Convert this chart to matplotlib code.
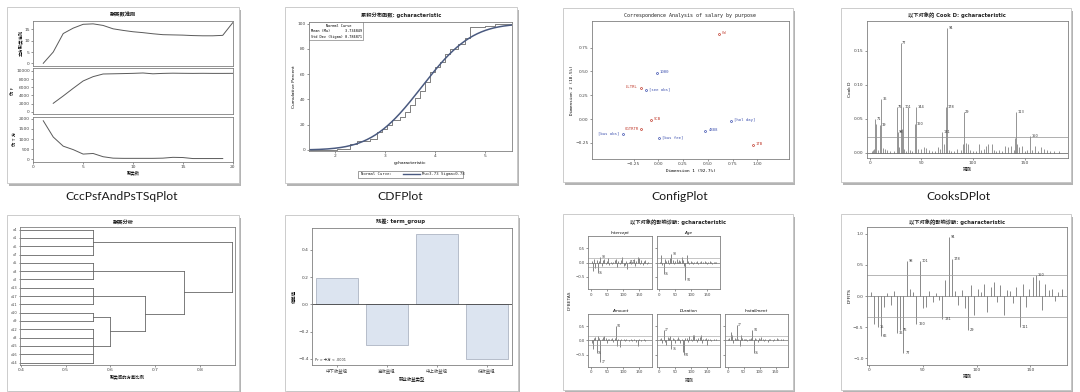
import math
import numpy as np
import matplotlib
matplotlib.use('Agg')
import matplotlib.pyplot as plt
from matplotlib.patches import Rectangle
from matplotlib.lines import Line2D

plt.rcParams['font.family'] = ['DejaVu Sans', 'Noto Sans CJK SC']

W, H = 1080, 392

# ---- data ----
# CccPsfAndPsTSqPlot
n_clusters = list(range(1, 21))
ccc = [0, 5, 13.2, 15.6, 17.3, 17.5, 16.8, 15.3, 14.6, 14.0, 13.6, 13.1, 12.7, 12.6, 12.5, 12.3, 12.2, 12.2, 12.4, 18.0]
pseudo_f = [None, 2050, 3850, 5730, 7540, 8600, 9250, 9300, 9350, 9410, 9500, 9300, 9400, 9450, 9420, 9400, 9420, 9400, 9400, 9410]
pseudo_t2 = [1900, 1100, 650, 480, 260, 290, 130, 60, 50, 50, 50, 50, 60, 100, 90, 40, 40, 40, 40, None]

# CDFPlot
step_x = [1.5, 2.05, 2.3, 2.45, 2.7, 2.85, 2.95, 3.05, 3.15, 3.3, 3.4, 3.5, 3.6, 3.7, 3.8, 3.9, 4.0, 4.1,
          4.2, 4.3, 4.45, 4.6, 4.7, 5.0, 5.2, 5.55]
step_pct = [0, 1, 5, 7, 9, 14, 17, 20, 24, 26, 30, 36, 41, 47, 54, 62, 66, 70, 76, 80, 84, 89, 97, 98, 100, 100]
normal_mu = 3.734849
normal_sigma = 0.784871

# ConfigPlot
ca_x = [0.614, -0.017, -0.18, -0.12, -0.077, -0.17, -0.36, 0.01, 0.476, 0.738, 0.956]
ca_y = [0.895, 0.48, 0.325, 0.30, -0.014, -0.11, -0.16, -0.20, -0.13, -0.025, -0.276]
ca_lab = ['CW', '1000', 'LLTRL', '[see obs]', 'SCB', 'GGTRTR', '[bus obs]', '[bus fee]', '4888', '[hol day]', '1TB']
ca_kind = ['row', 'col', 'row', 'col', 'row', 'row', 'col', 'col', 'col', 'col', 'row']
ca_side = ['r', 'r', 'l', 'r', 'r', 'l', 'l', 'r', 'r', 'r', 'r']

# CooksDPlot
cook_obs = [2, 3, 4, 5, 6, 8, 10, 11, 13, 15, 17, 20, 24, 26, 27, 28, 30, 31, 32, 33, 35, 37, 39, 41, 44, 45,
            47, 50, 53, 55, 57, 60, 63, 66, 68, 70, 72, 74, 75, 77, 79, 82, 85, 88, 90, 91, 93, 95, 97, 100,
            103, 106, 108, 111, 113, 115, 118, 120, 122, 125, 128, 131, 134, 137, 140, 141, 142, 143, 145,
            147, 150, 152, 155, 157, 160, 163, 166, 169, 172, 175, 178, 183]
cook_d = [0.002, 0.004, 0.006, 0.050, 0.042, 0.004, 0.041, 0.079, 0.007, 0.006, 0.004, 0.003, 0.002, 0.067,
          0.030, 0.008, 0.162, 0.035, 0.067, 0.006, 0.003, 0.067, 0.004, 0.003, 0.042, 0.067, 0.006, 0.005,
          0.008, 0.007, 0.004, 0.003, 0.002, 0.008, 0.005, 0.031, 0.012, 0.067, 0.183, 0.004, 0.003, 0.003,
          0.006, 0.004, 0.012, 0.060, 0.014, 0.013, 0.004, 0.003, 0.002, 0.012, 0.004, 0.006, 0.010, 0.013,
          0.012, 0.004, 0.003, 0.004, 0.003, 0.009, 0.008, 0.009, 0.004, 0.022, 0.060, 0.012, 0.008, 0.010,
          0.003, 0.004, 0.024, 0.004, 0.010, 0.002, 0.008, 0.005, 0.004, 0.003, 0.002, 0.002]
cook_labels = {5: '71', 10: '19', 11: '36', 26: '76', 27: '98', 30: '77', 32: '101', 44: '160', 45: '144',
               70: '131', 74: '178', 75: '94', 91: '29', 142: '113', 155: '150'}
cook_cut = 0.0225

# Dendrogram
leaf_names = ['x4', 'x1', 'x6', 'x7', 'x5', 'x3', 'x2', 'x13', 'x17', 'x11', 'x10', 'x9', 'x12', 'x8',
              'x15', 'x16', 'x14']
clusters = [('A', [0, 1, 2, 3], 0.561), ('B', [4, 5, 6], 0.561), ('C', [7, 8, 9], 0.561),
            ('D', [10, 11], 0.561), ('E', [12, 13, 14, 15, 16], 0.561),
            ('DE', ['D', 'E'], 0.600), ('CDE', ['C', 'DE'], 0.678),
            ('BCDE', ['B', 'CDE'], 0.764), ('ALL', ['A', 'BCDE'], 0.872)]

# Deviation bars
bar_cats = ['中下收益组', '高收益组', '中上收益组', '低收益组']
bar_vals = [0.19, -0.30, 0.515, -0.403]

# DFBETAS panel
dfb_obs = list(range(2, 179, 4))
dfb_names = ['Intercept', 'Age', 'Amount', 'Duration', 'Installment']
dfb_int = [0.05, -0.28, 0.12, -0.18, 0.10, -0.37, 0.06, 0.18, -0.10, 0.08, 0.14, -0.06, 0.05, 0.16, -0.08,
           0.04, -0.05, 0.03, 0.10, 0.12, -0.15, 0.06, -0.04, 0.08, 0.20, -0.12, -0.08, 0.05, -0.22, 0.03,
           0.06, -0.05, 0.04, 0.12, -0.10, 0.07, 0.20, 0.15, -0.06, 0.09, -0.08, 0.05, 0.10, -0.04, 0.03]
dfb_age = [0.04, 0.25, -0.08, -0.40, 0.12, 0.06, 0.10, -0.05, 0.15, 0.30, 0.08, -0.06, 0.05, 0.12, 0.04,
           0.10, 0.06, 0.20, 0.08, -0.10, -0.62, 0.25, 0.05, -0.04, 0.06, 0.03, -0.05, 0.04, 0.02, 0.06,
           -0.03, 0.04, 0.05, -0.02, 0.03, 0.06, 0.02, -0.04, 0.03, 0.05, 0.02, -0.03, 0.04, 0.02, 0.03]
dfb_amount = [-0.10, -0.30, 0.08, 0.12, -0.45, 0.15, 0.10, -0.75, 0.06, 0.12, 0.14, 0.10, -0.08, 0.05, 0.06,
              0.04, 0.10, -0.06, 0.08, 0.50, -0.20, 0.06, -0.22, 0.04, 0.03, 0.05, -0.03, 0.04, 0.02, -0.04,
              0.03, 0.05, -0.02, 0.04, 0.03, -0.06, -0.20, 0.05, 0.03, -0.04, 0.02, 0.04, -0.03, 0.02, 0.03]
dfb_duration = [0.06, 0.08, -0.10, 0.35, -0.05, -0.15, 0.12, 0.10, 0.14, -0.30, 0.08, 0.06, -0.10, 0.05, 0.12,
                0.04, -0.08, 0.06, -0.40, -0.50, 0.10, 0.08, -0.05, 0.15, 0.06, -0.04, 0.20, 0.18, 0.05, -0.06,
                0.08, 0.12, 0.20, -0.10, 0.06, 0.04, 0.08, -0.15, 0.05, 0.06, -0.04, 0.03, 0.05, 0.02, 0.04]
dfb_install = [0.04, 0.10, 0.30, 0.20, -0.08, 0.10, 0.06, 0.55, 0.05, -0.20, 0.18, 0.08, 0.05, 0.04, 0.06,
               -0.04, 0.06, 0.05, 0.08, 0.35, -0.45, 0.10, 0.05, -0.06, 0.08, 0.04, 0.12, 0.05, -0.04, 0.06,
               0.03, -0.05, 0.04, 0.06, 0.03, -0.04, 0.05, 0.03, 0.08, 0.04, 0.02, 0.05, 0.03, 0.06, 0.02]
dfb_labels = [{22: '36', 30: '98', 118: '111'}, {14: '36', 38: '98', 82: '94'},
              {30: '77', 78: '94', 18: '15'}, {38: '36', 78: '94', 14: '77'},
              {30: '77', 78: '94', 82: '36'}]
dfb_cut = 0.15

# DFFITS
ff_obs = list(range(2, 180, 3))
ff_val = [0.06, -0.45, -0.50, -0.65, -0.18, 0.05, -0.15, 0.08, -0.60, -0.55, -0.92, 0.57, 0.12, 0.06, -0.45,
          0.57, -0.20, -0.18, 0.08, -0.10, 0.05, -0.06, -0.37, 0.25, 0.95, 0.60, 0.08, -0.15, 0.10, -0.20,
          -0.55, 0.18, -0.30, 0.12, 0.06, 0.20, -0.25, 0.15, 0.22, -0.10, 0.18, -0.30, 0.10, 0.08, -0.12,
          0.15, -0.50, 0.20, -0.18, 0.12, 0.30, 0.33, 0.25, -0.22, 0.20, 0.10, 0.12, -0.08, 0.06, 0.12]
ff_labels = {8: '15', 11: '66', 26: '36', 29: '76', 32: '77', 35: '98', 47: '101', 44: '160', 68: '131',
             74: '94', 77: '178', 92: '29', 140: '111', 155: '150'}
ff_cut = 0.33

captions = ['CccPsfAndPsTSqPlot', 'CDFPlot', 'ConfigPlot', 'CooksDPlot']

# ---- helpers ----
fig = plt.figure(figsize=(W / 100, H / 100), dpi=100)
LC = '#5a5a5a'
FS = 3.2


def rect(x0, y0, x1, y1):
    return [x0 / W, 1 - y1 / H, (x1 - x0) / W, (y1 - y0) / H]


def frame(x0, y0, x1, y1):
    fig.add_artist(Rectangle(((x0 + 2) / W, 1 - (y1 + 2.5) / H), (x1 - x0) / W, (y1 - y0) / H,
                             transform=fig.transFigure, fc='#b4b4b4', ec='none', zorder=-3))
    fig.add_artist(Rectangle((x0 / W, 1 - y1 / H), (x1 - x0) / W, (y1 - y0) / H,
                             transform=fig.transFigure, fc='white', ec='#c4c4c4', lw=0.6, zorder=-2))


def ftext(x, y, s, **kw):
    kw.setdefault('fontsize', 3.8)
    kw.setdefault('ha', 'center')
    kw.setdefault('va', 'center')
    kw.setdefault('color', '#222222')
    fig.text(x / W, 1 - y / H, s, **kw)


def style(ax):
    for s in ax.spines.values():
        s.set_color('#808080')
        s.set_linewidth(0.6)
    ax.tick_params(labelsize=FS, length=1.5, width=0.4, pad=1, colors='#444444')


def add_ax(x0, y0, x1, y1):
    ax = fig.add_axes(rect(x0, y0, x1, y1))
    ax.patch.set_alpha(0)
    style(ax)
    return ax


# ---- panel 1: CCC / pseudo F / pseudo T2 ----
frame(7, 7, 239, 183)
ftext(123, 15, '聚类数准则', fontweight='bold')
specs = [((20.7, 66), ccc, (-1.2, 18.9), [0, 5, 10, 15], '立方聚类准则'),
         ((68.3, 114.3), pseudo_f, (-650, 10650), [0, 2000, 4000, 6000, 8000, 10000], '伪 F'),
         ((116.7, 161.7), pseudo_t2, (-115, 2100), [0, 500, 1000, 1500, 2000], '伪 T 方')]
for (ya, yb), vals, ylim, yt, lab in specs:
    ax = add_ax(33.3, ya, 232.7, yb)
    xs = [n for n, v in zip(n_clusters, vals) if v is not None]
    ys = [v for v in vals if v is not None]
    ax.plot(xs, ys, color=LC, lw=0.7)
    ax.set_xlim(0, 20)
    ax.set_ylim(*ylim)
    ax.set_yticks(yt)
    ax.set_xticks([0, 5, 10, 15, 20])
    ax.set_ylabel(lab, fontsize=FS, labelpad=1)
    if lab != '伪 T 方':
        ax.tick_params(labelbottom=False, length=0, axis='x')
ax.set_xlabel('聚类数', fontsize=FS, labelpad=1)

# ---- panel 2: CDF ----
frame(285, 7, 517, 183)
ftext(401, 15, '累积分布函数: gcharacteristic', fontweight='bold')
ax = add_ax(309, 22, 512, 151)
ax.step(step_x, step_pct, where='post', color='#6a6a6a', lw=0.6)
xx = np.linspace(1.49, 5.53, 200)
cdf = [50 * (1 + math.erf((v - normal_mu) / (normal_sigma * math.sqrt(2)))) for v in xx]
ax.plot(xx, cdf, color='#4a5a80', lw=1.1)
ax.set_xlim(1.49, 5.53)
ax.set_ylim(-0.8, 101.3)
ax.set_xticks([2, 3, 4, 5])
ax.set_yticks([0, 20, 40, 60, 80, 100])
ax.set_xlabel('gcharacteristic', fontsize=FS, labelpad=1.5)
ax.set_ylabel('Cumulative Percent', fontsize=FS, labelpad=1)
ax.text(0.008, 0.985, '       Normal Curve\nMean (Mu)       %.6f\nStd Dev (Sigma) %.6f' % (normal_mu, normal_sigma),
        transform=ax.transAxes, family='DejaVu Sans Mono', fontsize=2.6, va='top', ha='left',
        linespacing=1.5, bbox=dict(boxstyle='square,pad=0.4', fc='white', ec='#666666', lw=0.4))
fig.add_artist(Rectangle((358 / W, 1 - 177.5 / H), 105 / W, 6.5 / H, transform=fig.transFigure,
                         fc='white', ec='#555555', lw=0.4))
ftext(361, 174.3, 'Normal Curve:', fontsize=2.8, ha='left', family='DejaVu Sans Mono')
fig.add_artist(Line2D([403 / W, 420 / W], [1 - 174.3 / H] * 2, transform=fig.transFigure,
                      color='#4a5a80', lw=1.0))
ftext(422, 174.3, 'Mu=3.73 Sigma=0.78', fontsize=2.8, ha='left', family='DejaVu Sans Mono')

# ---- panel 3: correspondence analysis ----
frame(563, 8, 793, 182)
ftext(690, 15, 'Correspondence Analysis of salary by purpose', family='DejaVu Sans Mono', fontsize=3.6)
ax = add_ax(592, 21, 789, 159)
for x, y, lab, kind, side in zip(ca_x, ca_y, ca_lab, ca_kind, ca_side):
    c = '#c0392b' if kind == 'row' else '#3b4fae'
    ax.plot(x, y, marker='o', ms=1.4, mfc='none', mec=c, mew=0.5)
    dx = 0.03 if side == 'r' else -0.03
    ax.text(x + dx, y + 0.01, lab, color=c, fontsize=2.8, family='DejaVu Sans Mono',
            ha='left' if side == 'r' else 'right', va='center')
ax.set_xlim(-0.67, 1.32)
ax.set_ylim(-0.42, 1.03)
ax.set_xticks([-0.25, 0, 0.25, 0.5, 0.75, 1.0])
ax.set_yticks([-0.25, 0, 0.25, 0.5, 0.75])
ax.xaxis.set_major_formatter('{x:.2f}')
ax.yaxis.set_major_formatter('{x:.2f}')
ax.set_xlabel('Dimension 1 (92.7%)', fontsize=FS, labelpad=2, family='DejaVu Sans Mono')
ax.set_ylabel('Dimension 2 (18.5%)', fontsize=FS, labelpad=1, family='DejaVu Sans Mono')

# ---- panel 4: Cook's D ----
frame(841, 8, 1071, 182)
ftext(957, 15, '以下对象的 Cook D: gcharacteristic', fontweight='bold')
ax = add_ax(867, 21, 1068, 158)
ax.vlines(cook_obs, 0, cook_d, color='#6a6a6a', lw=0.5)
ax.axhline(0, color='#555555', lw=0.5)
ax.axhline(cook_cut, color='#909090', lw=0.5)
for o, lab in cook_labels.items():
    ax.text(o + 1.5, cook_d[cook_obs.index(o)], lab, fontsize=2.5, va='center', ha='left', color='#333333')
ax.set_xlim(-2.6, 192)
ax.set_ylim(-0.008, 0.194)
ax.set_xticks([0, 50, 100, 150])
ax.set_yticks([0, 0.05, 0.10, 0.15])
ax.yaxis.set_major_formatter('{x:.2f}')
ax.set_xlabel('观测', fontsize=FS, labelpad=1.5)
ax.set_ylabel('Cook D', fontsize=FS, labelpad=1)

# ---- panel 5: dendrogram ----
frame(7, 215, 239, 391)
ftext(123, 222, '聚类分析', fontweight='bold')
ax = add_ax(20, 227, 235, 365)
x_left = 0.398
pos = {}
for i in range(len(leaf_names)):
    pos[i] = (i, x_left)
for name, kids, h in clusters:
    ys = [pos[k][0] for k in kids]
    for k in kids:
        ax.plot([pos[k][1], h], [pos[k][0]] * 2, color='#666666', lw=0.6)
    ax.plot([h, h], [min(ys), max(ys)], color='#666666', lw=0.6)
    pos[name] = ((min(ys) + max(ys)) / 2, h)
ax.set_xlim(x_left, 0.878)
ax.set_ylim(16.3, -0.32)
ax.set_yticks(range(len(leaf_names)))
ax.set_yticklabels(leaf_names)
ax.set_xticks([0.4, 0.5, 0.6, 0.7, 0.8])
ax.xaxis.set_major_formatter('{x:.1f}')
ax.tick_params(axis='y', length=1, labelsize=2.6)
ax.set_xlabel('聚类间的方差比例', fontsize=FS, labelpad=2)

# ---- panel 6: deviation bars ----
frame(285, 215, 518, 391)
ftext(401, 222, '残差: term_group', fontweight='bold')
ax = add_ax(312, 228, 512, 365)
ax.bar(range(len(bar_cats)), bar_vals, width=0.83, color='#dce4f0', edgecolor='#a0a8b8', lw=0.5)
ax.axhline(0, color='#444444', lw=0.6)
ax.set_xlim(-0.5, 3.5)
ax.set_ylim(-0.444, 0.559)
ax.set_xticks(range(len(bar_cats)))
ax.set_xticklabels(bar_cats)
ax.set_yticks([-0.4, -0.2, 0.0, 0.2, 0.4])
ax.yaxis.set_major_formatter('{x:.1f}')
ax.set_ylabel('偏差值', fontsize=FS, labelpad=1)
ax.set_xlabel('职业收益类型', fontsize=FS, labelpad=2)
ax.text(0.015, 0.03, 'Pr > 卡方 < .0001', transform=ax.transAxes, fontsize=2.5, color='#333333')

# ---- panel 7: DFBETAS ----
frame(563, 214, 793, 390)
ftext(678, 222, '以下对象的影响诊断: gcharacteristic', fontweight='bold')
boxes = [(588.3, 236, 651.7, 289.3), (656.7, 236, 720, 289.3),
         (588.3, 314, 651.7, 366.7), (656.7, 314, 720, 366.7), (725, 314, 788.3, 366.7)]
series = [dfb_int, dfb_age, dfb_amount, dfb_duration, dfb_install]
for i, (b, vals, nm, labs) in enumerate(zip(boxes, series, dfb_names, dfb_labels)):
    ax = add_ax(*b)
    ax.vlines(dfb_obs, 0, vals, color='#555555', lw=0.5)
    ax.axhline(0, color='#555555', lw=0.4)
    ax.axhline(dfb_cut, color='#999999', lw=0.4)
    ax.axhline(-dfb_cut, color='#999999', lw=0.4)
    for o, lab in labs.items():
        v = vals[dfb_obs.index(o)]
        ax.text(o + 3, v, lab, fontsize=2.2, va='center', ha='left', color='#333333')
    ax.set_xlim(-8, 190)
    ax.set_ylim(-0.93, 0.93)
    ax.set_xticks([0, 50, 100, 150])
    ax.set_yticks([-0.5, 0, 0.5])
    ax.yaxis.set_major_formatter('{x:.1f}')
    ax.tick_params(labelsize=2.8)
    if i not in (0, 2):
        ax.tick_params(labelleft=False)
    ax.set_title(nm, fontsize=3, style='italic', pad=1.5)
ftext(570, 300, 'DFBETAS', fontsize=FS, rotation=90)
ftext(689, 381, '观测', fontsize=FS)

# ---- panel 8: DFFITS ----
frame(841, 214, 1071, 390)
ftext(957, 222, '以下对象的影响诊断: gcharacteristic', fontweight='bold')
ax = add_ax(867, 227, 1067, 365)
ax.vlines(ff_obs, 0, ff_val, color='#5a5a5a', lw=0.5)
ax.axhline(0, color='#555555', lw=0.4)
ax.axhline(ff_cut, color='#999999', lw=0.5)
ax.axhline(-ff_cut, color='#999999', lw=0.5)
for o, lab in ff_labels.items():
    v = ff_val[ff_obs.index(o)]
    ax.text(o + 2, v, lab, fontsize=2.5, va='center', ha='left', color='#333333')
ax.set_xlim(-1.9, 184)
ax.set_ylim(-1.11, 1.11)
ax.set_xticks([0, 50, 100, 150])
ax.set_yticks([-1.0, -0.5, 0, 0.5, 1.0])
ax.yaxis.set_major_formatter('{x:.1f}')
ax.set_xlabel('观测', fontsize=FS, labelpad=1.5)
ax.set_ylabel('DFFITS', fontsize=FS, labelpad=1)

# ---- captions ----
for cx, cap in zip([122, 400, 680, 958], captions):
    ftext(cx, 197, cap, fontsize=8.7, family=['Lato'], color='#1a1a1a')

fig.savefig('out.png', dpi=100, facecolor='white')
